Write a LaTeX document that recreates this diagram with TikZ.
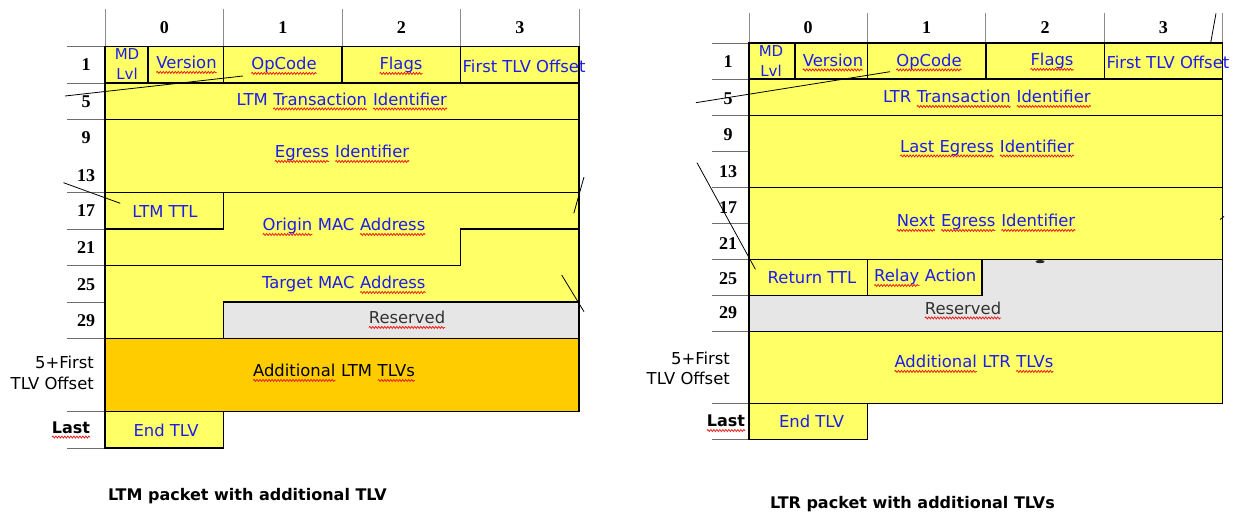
\documentclass[tikz,border=0pt]{standalone}
\usepackage{fontspec}
\setmainfont{DejaVu Sans}
\newfontfamily\numfont{Liberation Serif}
\usetikzlibrary{decorations.pathmorphing}

\definecolor{fieldyellow}{RGB}{255,255,102}
\definecolor{tlvorange}{RGB}{255,204,0}
\definecolor{resgray}{RGB}{230,230,230}
\definecolor{fieldblue}{RGB}{28,28,235}
\definecolor{headgray}{RGB}{140,140,140}
\definecolor{labelgray}{RGB}{110,110,110}
\definecolor{spellred}{RGB}{235,30,30}
\definecolor{restext}{RGB}{50,50,50}

% word with a red wavy spell-check underline
\newcommand\sqg[1]{\tikz[baseline=(sqw.base)]{\node[inner sep=0pt,outer sep=0pt](sqw){#1};\draw[spellred,line width=0.8pt,decorate,decoration={snake,amplitude=1pt,segment length=3pt}]([yshift=-3.8pt]sqw.base west)--([yshift=-3.8pt]sqw.base east);}}

\newcommand\fieldfont{\fontsize{16.4}{19}\selectfont}

\tikzset{
  fieldbox/.style={draw=black, line width=1.2pt, fill=fieldyellow},
  graybox/.style={draw=black, line width=1.2pt, fill=resgray},
  orangebox/.style={draw=black, line width=1.2pt, fill=tlvorange},
  ftext/.style={text=fieldblue, font=\fieldfont, inner sep=0pt},
  btext/.style={text=black, font=\fieldfont, inner sep=0pt},
  rtext/.style={text=restext, font=\fieldfont, inner sep=0pt},
  colnum/.style={font=\numfont\bfseries\fontsize{18}{18}\selectfont, inner sep=0pt},
  rownum/.style={font=\numfont\bfseries\fontsize{18}{18}\selectfont, inner sep=0pt},
  lastlbl/.style={font=\bfseries\fontsize{16}{18}\selectfont, inner sep=0pt},
  offlbl/.style={font=\fontsize{16.4}{20.5}\selectfont, align=right, inner sep=0pt, anchor=east},
  mdlbl/.style={text=fieldblue, font=\fontsize{15}{20.5}\selectfont, align=center, inner sep=0pt},
  headrule/.style={draw=headgray, line width=0.9pt},
  labelrule/.style={draw=labelgray, line width=1pt},
  stray/.style={draw=black, line width=0.8pt},
  caption/.style={font=\bfseries\fontsize{16}{18}\selectfont, inner sep=0pt},
}

\begin{document}
\begin{tikzpicture}[x=1pt,y=-1pt]
\useasboundingbox (0,0) rectangle (1243,512);

%% ================= LTM packet =================
% column header
\foreach \x in {105,223.5,342,460.5,579} \draw[headrule] (\x,9) -- (\x,46.5);
\node[colnum] (ltmC0) at (164.25,28) {0};
\node[colnum] (ltmC1) at (282.75,28) {1};
\node[colnum] (ltmC2) at (401.25,28) {2};
\node[colnum] (ltmC3) at (519.75,28) {3};
% row label rules
\foreach \y in {46.5,83,119.5,192.5,229,265.5,302,338.5,411.5,448} \draw[labelrule] (67,\y) -- (105,\y);

% fields
\draw[fieldbox] (105,46.5) rectangle (148,83);
\draw[fieldbox] (148,46.5) rectangle (223.5,83);
\draw[fieldbox] (223.5,46.5) rectangle (342,83);
\draw[fieldbox] (342,46.5) rectangle (460.5,83);
\draw[fieldbox] (460.5,46.5) rectangle (579,83);
\draw[fieldbox] (105,83) rectangle (579,119.5);
\draw[fieldbox] (105,119.5) rectangle (579,192.5);
\draw[fieldbox] (105,192.5) rectangle (223.5,229);
% Origin MAC Address (6 bytes from offset 18)
\draw[fieldbox] (223.5,192.5) -- (579,192.5) -- (579,229) -- (460.5,229) -- (460.5,265.5)
  -- (105,265.5) -- (105,229) -- (223.5,229) -- cycle;
% Target MAC Address (6 bytes from offset 24)
\draw[fieldbox] (460.5,229) -- (579,229) -- (579,302) -- (223.5,302) -- (223.5,338.5)
  -- (105,338.5) -- (105,265.5) -- (460.5,265.5) -- cycle;
\draw[graybox] (223.5,302) rectangle (579,338.5);
\draw[orangebox] (105,338.5) rectangle (579,411.5);
\draw[fieldbox] (105,411.5) rectangle (223.5,448);

\node[mdlbl] (ltmMD) at (127,64) {MD\\Lvl};
\node[ftext] (ltmVer) at (186.5,65) {\sqg{Version}};
\node[ftext] (ltmOp) at (284,66) {\sqg{OpCode}};
\node[ftext] (ltmFlags) at (401,66) {\sqg{Flags}};
\node[ftext, anchor=west] (ltmFirst) at (462.5,66) {First TLV Offset};
\node[ftext] (ltmTrans) at (342,101.5) {LTM \sqg{Transaction} \sqg{Identifier}};
\node[ftext] (ltmEgress) at (342,154) {\sqg{Egress} \sqg{Identifier}};
\node[ftext] (ltmTTL) at (165,212) {LTM TTL};
\node[ftext] (ltmOrigin) at (344,227) {\sqg{Origin} MAC \sqg{Address}};
\node[ftext] (ltmTarget) at (344,285) {Target MAC \sqg{Address}};
\node[rtext] (ltmRes) at (407,320) {\sqg{Reserved}};
\node[btext] (ltmAdd) at (334,373) {\sqg{Additional} LTM \sqg{TLVs}};
\node[ftext] (ltmEnd) at (166,430) {End TLV};

% row labels
\node[rownum] (ltmR1) at (86,65) {1};
\node[rownum] (ltmR5) at (86,101.5) {5};
\node[rownum] (ltmR9) at (86,137.5) {9};
\node[rownum] (ltmR13) at (86,175.5) {13};
\node[rownum] (ltmR17) at (86,211) {17};
\node[rownum] (ltmR21) at (86,248) {21};
\node[rownum] (ltmR25) at (86,284.5) {25};
\node[rownum] (ltmR29) at (86,321) {29};
\node[offlbl] (ltmOff) at (94,373) {5+First\\TLV Offset};
\node[lastlbl] (ltmLast) at (71,430) {\sqg{Last}};

% stray pen strokes
\draw[stray] (65,96) -- (243,76);
\draw[stray] (63.5,182.7) -- (120.3,203.3);
\draw[stray] (584,177) -- (573.8,213.3);
\draw[stray] (561.7,275) -- (584,311.7);

\node[caption] (ltmCap) at (247.5,496.5) {LTM packet with additional TLV};

%% ================= LTR packet =================
\foreach \x in {749,867.4,985.8,1104.1,1222.5} \draw[headrule] (\x,12.7) -- (\x,43);
\node[colnum] (ltrC0) at (808.2,27.5) {0};
\node[colnum] (ltrC1) at (926.6,27.5) {1};
\node[colnum] (ltrC2) at (1045,27.5) {2};
\node[colnum] (ltrC3) at (1163.3,27.5) {3};
\foreach \y in {43,79,115.1,151.1,187.1,223.2,259.2,295.2,331.3,403.3,439.3} \draw[labelrule] (712,\y) -- (749,\y);

\draw[fieldbox] (749,43) rectangle (795,79);
\draw[fieldbox] (795,43) rectangle (867.4,79);
\draw[fieldbox] (867.4,43) rectangle (985.8,79);
\draw[fieldbox] (985.8,43) rectangle (1104.1,79);
\draw[fieldbox] (1104.1,43) rectangle (1222.5,79);
\draw[black, line width=2.2pt] (985.8,43) -- (985.8,79);
\draw[fieldbox] (749,79) rectangle (1222.5,115.1);
\draw[fieldbox] (749,115.1) rectangle (1222.5,187.1);
\draw[fieldbox] (749,187.1) rectangle (1222.5,259.2);
\draw[graybox] (749,259.2) rectangle (1222.5,331.3);
\draw[fieldbox] (749,259.2) rectangle (867.4,295.2);
\draw[fieldbox] (867.4,259.2) rectangle (982,295.2);
\draw[fieldbox] (749,331.3) rectangle (1222.5,403.3);
\draw[fieldbox] (749,403.3) rectangle (867.4,439.3);

\node[mdlbl] (ltrMD) at (771,61) {MD\\Lvl};
\node[ftext] (ltrVer) at (833,62.5) {\sqg{Version}};
\node[ftext] (ltrOp) at (929,62.5) {\sqg{OpCode}};
\node[ftext] (ltrFlags) at (1052,62) {\sqg{Flags}};
\node[ftext, anchor=west] (ltrFirst) at (1106.3,62) {First TLV Offset};
\node[ftext] (ltrTrans) at (987,99) {LTR \sqg{Transaction} \sqg{Identifier}};
\node[ftext] (ltrLast) at (987,148.5) {\sqg{Last Egress} \sqg{Identifier}};
\node[ftext] (ltrNext) at (986,223) {\sqg{Next} \sqg{Egress} \sqg{Identifier}};
\node[ftext] (ltrTTL) at (812,278) {Return TTL};
\node[ftext] (ltrRelay) at (925,278) {\sqg{Relay} Action};
\node[rtext] (ltrRes) at (963,310.5) {\sqg{Reserved}};
\node[ftext] (ltrAdd) at (974,364) {\sqg{Additional} LTR \sqg{TLVs}};
\node[ftext] (ltrEnd) at (811.5,421.5) {End TLV};

\node[rownum] (ltrR1) at (728,62) {1};
\node[rownum] (ltrR5) at (728,98.5) {5};
\node[rownum] (ltrR9) at (728,134.5) {9};
\node[rownum] (ltrR13) at (728,172) {13};
\node[rownum] (ltrR17) at (728,208) {17};
\node[rownum] (ltrR21) at (728,244) {21};
\node[rownum] (ltrR25) at (728,279) {25};
\node[rownum] (ltrR29) at (728,313) {29};
\node[offlbl] (ltrOff) at (730,368.5) {5+First\\TLV Offset};
\node[lastlbl] (ltrLastLbl) at (726,423.5) {\sqg{Last}};

\draw[stray] (695.8,102.7) -- (890,71.7);
\draw[stray] (697,162.7) -- (755.4,269.3);
\draw[stray] (1210.7,42.7) -- (1216,13.3);
\draw[stray] (1220,219.5) -- (1224,216.5);
\fill[black!85] (1040,261.6) ellipse [x radius=4.5pt, y radius=1.6pt];

\node[caption] (ltrCap) at (912.5,504) {LTR packet with additional TLVs};
\end{tikzpicture}
\end{document}
